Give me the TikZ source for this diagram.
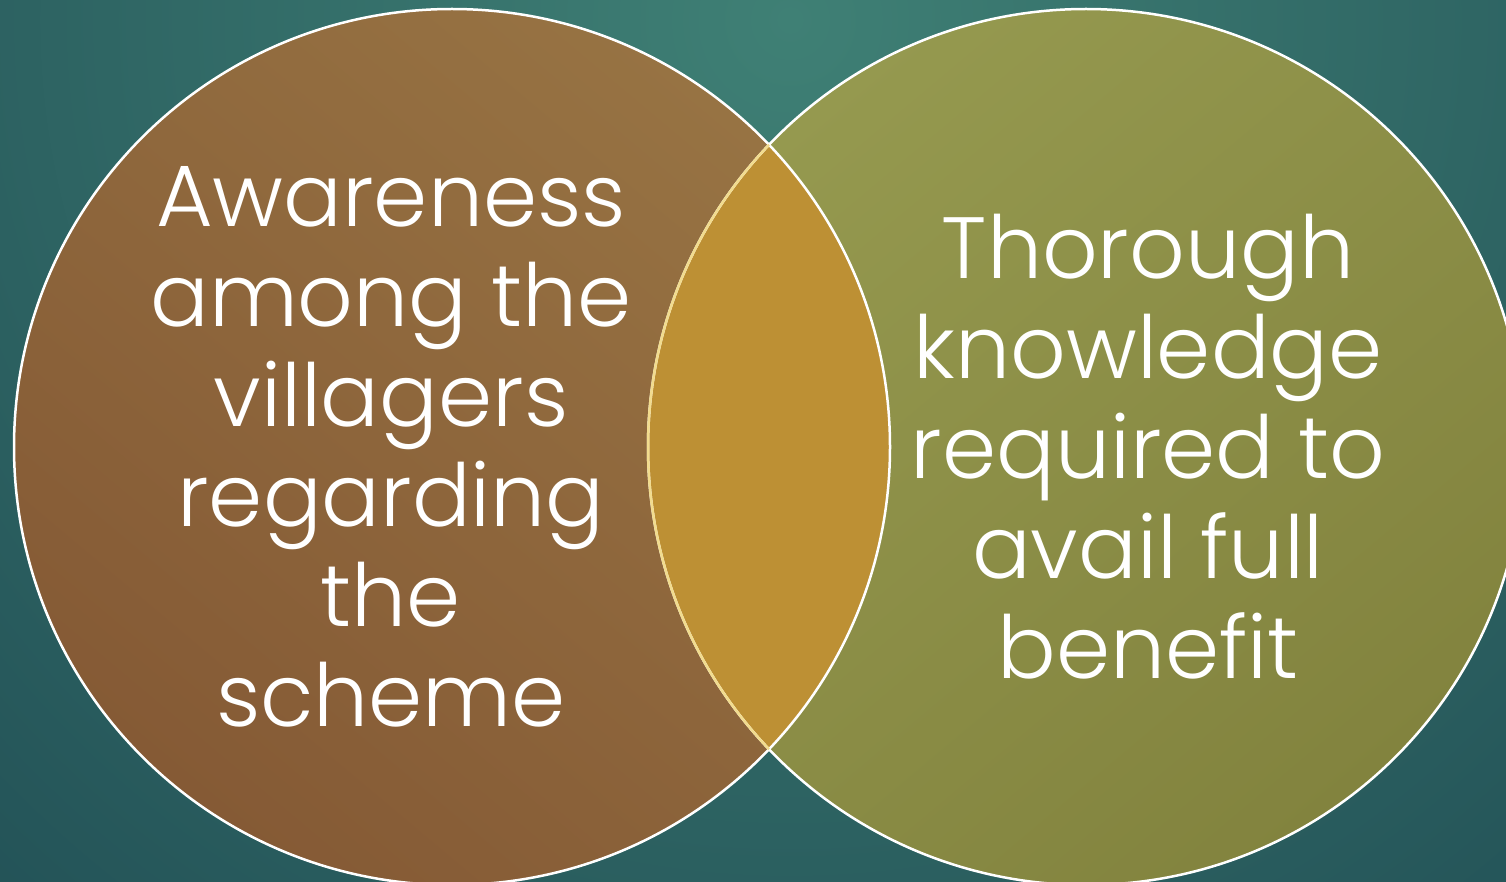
\documentclass[tikz,border=0pt]{standalone}
\usepackage{fontspec}
\setmainfont{Poppins Light}
\definecolor{bgin}{HTML}{3F8075}
\definecolor{bgout}{HTML}{1C4750}
\definecolor{lefta}{HTML}{855A35}
\definecolor{leftb}{HTML}{977343}
\definecolor{righta}{HTML}{95994F}
\definecolor{rightb}{HTML}{82833E}
\definecolor{inter}{HTML}{BD9034}
\definecolor{interedge}{HTML}{F2DC8E}
\tikzset{
  venn/.style={circle, minimum size=876pt, inner sep=0pt},
  vtext/.style={text=white, align=center, font=\fontsize{87}{100}\selectfont},
  rim/.style={draw=white, line width=2.5pt}
}
\begin{document}
\begin{tikzpicture}[x=1pt,y=-1pt]
\useasboundingbox (0,0) rectangle (1506,882);
\begin{scope}
\clip (0,0) rectangle (1506,882);
\shade[inner color=bgin, outer color=bgout] (790,20) circle[radius=1500pt];
\node[venn] (L) at (452,447) {};
\node[venn] (R) at (1086,447) {};
\shade[shading=axis, top color=leftb, bottom color=lefta, shading angle=-40] (L.center) circle[radius=438pt];
\shade[shading=axis, top color=righta, bottom color=rightb, shading angle=40] (R.center) circle[radius=438pt];
\begin{scope}
\clip (L.center) circle[radius=438pt];
\fill[inter] (R.center) circle[radius=438pt];
\end{scope}
\draw[rim] (L.center) circle[radius=438pt];
\draw[rim] (R.center) circle[radius=438pt];
\begin{scope}
\clip (L.center) circle[radius=438pt];
\draw[draw=interedge, line width=2.5pt] (R.center) circle[radius=438pt];
\end{scope}
\end{scope}
\node[vtext] (tL) at (391,447) {Awareness\\among the\\villagers\\regarding\\the\\scheme};
\node[vtext] (tR) at (1148,447) {Thorough\\knowledge\\required to\\avail full\\benefit};
\end{tikzpicture}
\end{document}
